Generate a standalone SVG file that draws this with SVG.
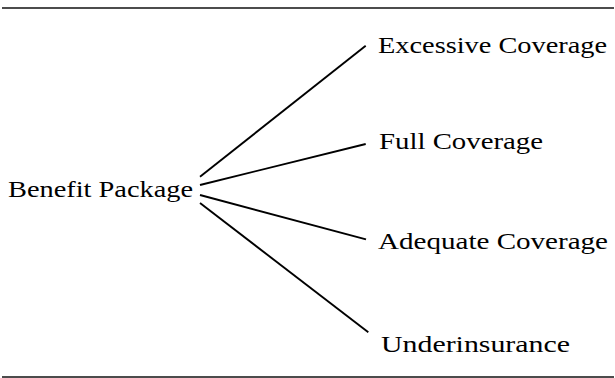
<svg xmlns="http://www.w3.org/2000/svg" width="615" height="378" viewBox="0 0 615 378">
  <style>
    .lbl { font-family: "Liberation Serif", "Times New Roman", serif; font-size: 24px; fill: #000; }
    .rule { stroke: #111; stroke-width: 1.7; }
    .conn { stroke: #000; stroke-width: 1.9; stroke-linecap: butt; fill: none; }
  </style>
  <rect width="615" height="378" fill="#fff"/>
  <line class="rule" x1="2" y1="8" x2="614" y2="8"/>
  <line class="rule" x1="2" y1="377" x2="614" y2="377"/>
  <g id="connectors">
    <line class="conn" x1="200" y1="176.7" x2="365.7" y2="45.7"/>
    <line class="conn" x1="200" y1="185" x2="365.7" y2="144"/>
    <line class="conn" x1="200" y1="195" x2="366" y2="239.3"/>
    <line class="conn" x1="200" y1="203" x2="368.3" y2="332.3"/>
  </g>
  <g id="node-benefit">
    <text class="lbl" x="8" y="197" textLength="185" lengthAdjust="spacingAndGlyphs">Benefit Package</text>
  </g>
  <g id="node-excessive">
    <text class="lbl" x="378" y="53" textLength="229" lengthAdjust="spacingAndGlyphs">Excessive Coverage</text>
  </g>
  <g id="node-full">
    <text class="lbl" x="379" y="149" textLength="164" lengthAdjust="spacingAndGlyphs">Full Coverage</text>
  </g>
  <g id="node-adequate">
    <text class="lbl" x="378" y="248.5" textLength="230" lengthAdjust="spacingAndGlyphs">Adequate Coverage</text>
  </g>
  <g id="node-under">
    <text class="lbl" x="381" y="351.5" textLength="189" lengthAdjust="spacingAndGlyphs">Underinsurance</text>
  </g>
</svg>
